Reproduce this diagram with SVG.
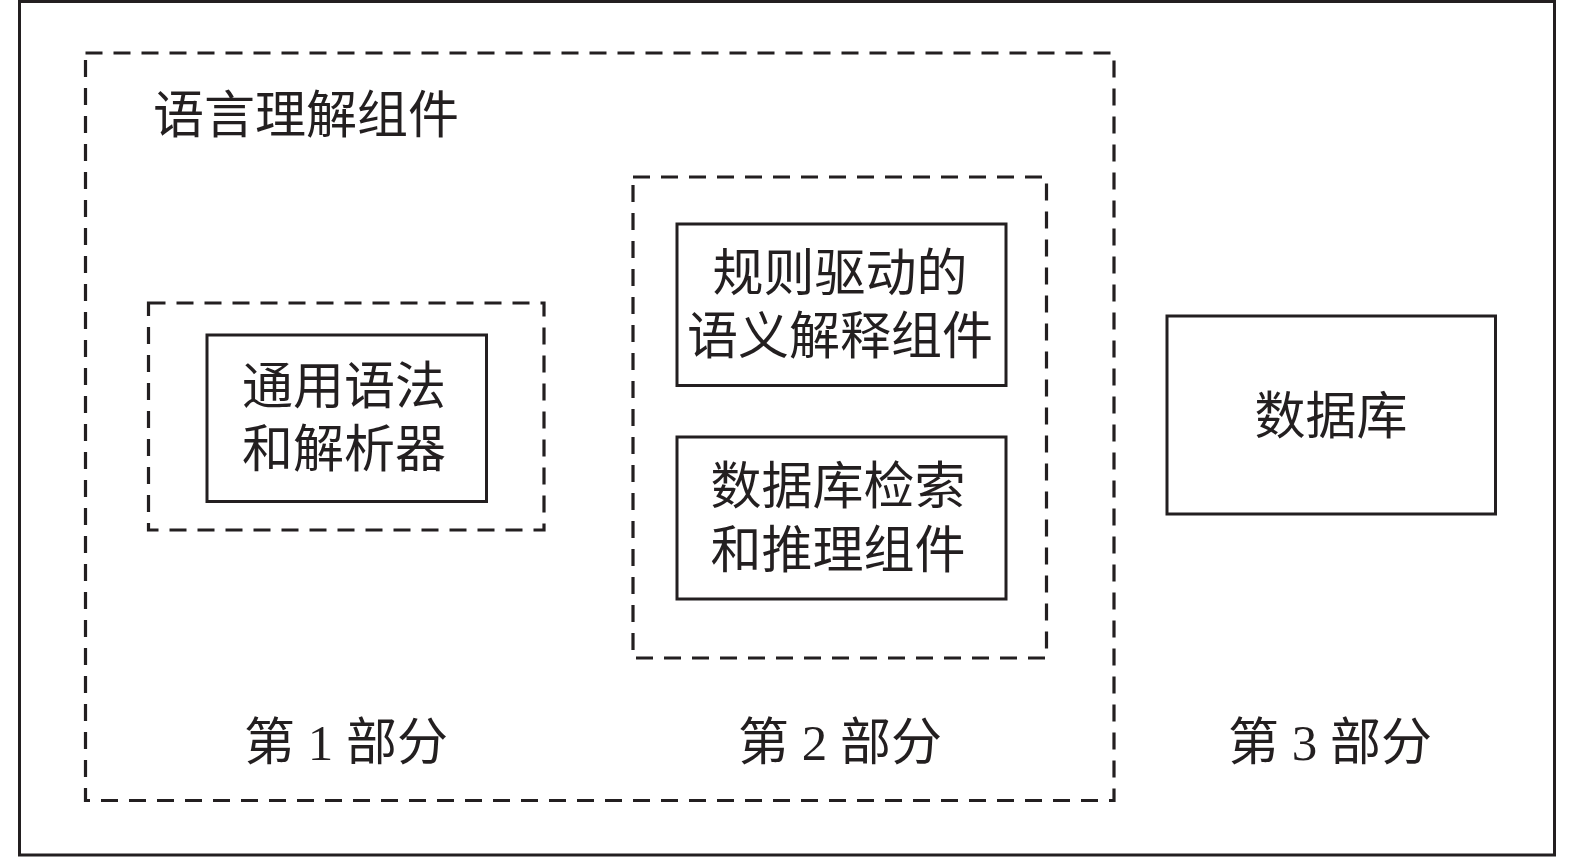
<svg xmlns="http://www.w3.org/2000/svg" width="1575" height="858" viewBox="0 0 1575 858">
<style>
.frame{fill:#ffffff;stroke:#231f20;stroke-width:3}
.dash{fill:none;stroke:#231f20;stroke-width:3.2;stroke-dasharray:17 11}
.box{fill:#ffffff;stroke:#231f20;stroke-width:3}
.t{font-family:"Liberation Serif","Noto Sans CJK SC",serif;font-size:51px;fill:#231f20}
.c{text-anchor:middle}
</style>
<rect width="1575" height="858" fill="#ffffff"/>
<rect class="frame" x="19.5" y="1.5" width="1535" height="853.5"/>
<g id="language-understanding">
<rect class="dash" x="85.5" y="53" width="1028.5" height="747.5"/>
<text class="t" x="153" y="133">语言理解组件</text>
</g>
<g id="part1">
<rect class="dash" x="148.5" y="303" width="395.5" height="227"/>
<text class="t c" x="346" y="760">第 1 部分</text>
</g>
<g id="grammar-parser">
<rect class="box" x="207" y="335" width="279.5" height="166.5"/>
<text class="t c" x="344" y="404">通用语法</text>
<text class="t c" x="344" y="467">和解析器</text>
</g>
<g id="part2">
<rect class="dash" x="633" y="177" width="413.5" height="481"/>
<text class="t c" x="840" y="760">第 2 部分</text>
</g>
<g id="semantic-interpretation">
<rect class="box" x="677" y="224" width="329" height="161.5"/>
<text class="t c" x="840" y="291">规则驱动的</text>
<text class="t c" x="840" y="354">语义解释组件</text>
</g>
<g id="retrieval-reasoning">
<rect class="box" x="677" y="437" width="329" height="162"/>
<text class="t c" x="838" y="504">数据库检索</text>
<text class="t c" x="838" y="568">和推理组件</text>
</g>
<g id="database">
<rect class="box" x="1167" y="316" width="328.5" height="198"/>
<text class="t c" x="1331" y="434">数据库</text>
</g>
<g id="part3">
<text class="t c" x="1330" y="760">第 3 部分</text>
</g>
<g id="connectors"></g>
</svg>
